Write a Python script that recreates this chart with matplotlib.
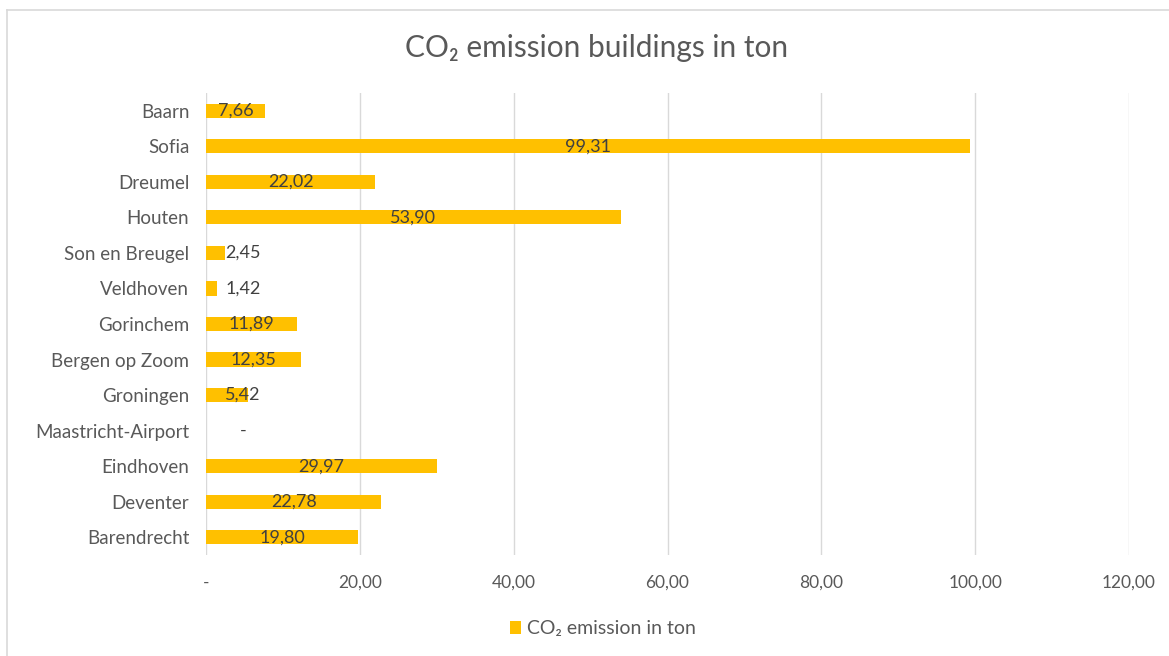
import matplotlib
matplotlib.use('Agg')
import matplotlib.pyplot as plt
from matplotlib.lines import Line2D

plt.rcParams['font.family'] = ['Lato', 'DejaVu Sans']

# data, top to bottom as in the chart
locations = ['Baarn', 'Sofia', 'Dreumel', 'Houten', 'Son en Breugel', 'Veldhoven',
             'Gorinchem', 'Bergen op Zoom', 'Groningen', 'Maastricht-Airport',
             'Eindhoven', 'Deventer', 'Barendrecht']
emission = [7.66, 99.31, 22.02, 53.90, 2.45, 1.42, 11.89, 12.35, 5.42, 0.0,
            29.97, 22.78, 19.80]
xticks = [0, 20, 40, 60, 80, 100, 120]

def fmt(v):
    # excel style: comma decimals, '-' for zero
    if v == 0:
        return '-'
    return ('%.2f' % v).replace('.', ',')

grey = '#595959'
bar_col = '#FFC000'

fig = plt.figure(figsize=(11.69, 6.56), dpi=100)
ax = fig.add_axes([206 / 1169, 1 - 555 / 656, 923 / 1169, 462 / 656])

ypos = list(range(len(locations)))
ax.barh(ypos, emission, height=0.4, color=bar_col, label='CO₂ emission in ton', zorder=3)

for y, v in zip(ypos, emission):
    x = v / 2 if v > 7 else 4.8
    ax.text(x, y, fmt(v), ha='center', va='center', fontsize=13, color='#404040', zorder=4)

ax.set_xlim(0, 120)
ax.set_ylim(len(locations) - 0.5, -0.5)
ax.set_yticks(ypos)
ax.set_yticklabels(locations, fontsize=13.5, color=grey)
ax.set_xticks(xticks)
ax.set_xticklabels([fmt(t) for t in xticks], fontsize=12.5, color=grey)
ax.tick_params(axis='both', length=0)
ax.tick_params(axis='y', pad=12)
ax.tick_params(axis='x', pad=14)
ax.xaxis.grid(True, color='#d9d9d9', linewidth=1, zorder=0)
for s in ax.spines.values():
    s.set_visible(False)

fig.text(597 / 1169, 1 - 48 / 656, 'CO₂ emission buildings in ton', ha='center', va='center',
         fontsize=21.5, color=grey)

fig.legend(loc='center', bbox_to_anchor=(603 / 1169, 1 - 629 / 656), frameon=False,
           fontsize=14, labelcolor=grey, handlelength=0.6, handleheight=0.6, handletextpad=0.3)

# chart border (top and left visible in the reference)
fig.add_artist(Line2D([7 / 1169, 1], [1 - 10 / 656, 1 - 10 / 656], color='#d9d9d9', linewidth=1.2))
fig.add_artist(Line2D([7 / 1169, 7 / 1169], [0, 1 - 10 / 656], color='#d9d9d9', linewidth=1.2))

fig.savefig('out.png', dpi=100)
